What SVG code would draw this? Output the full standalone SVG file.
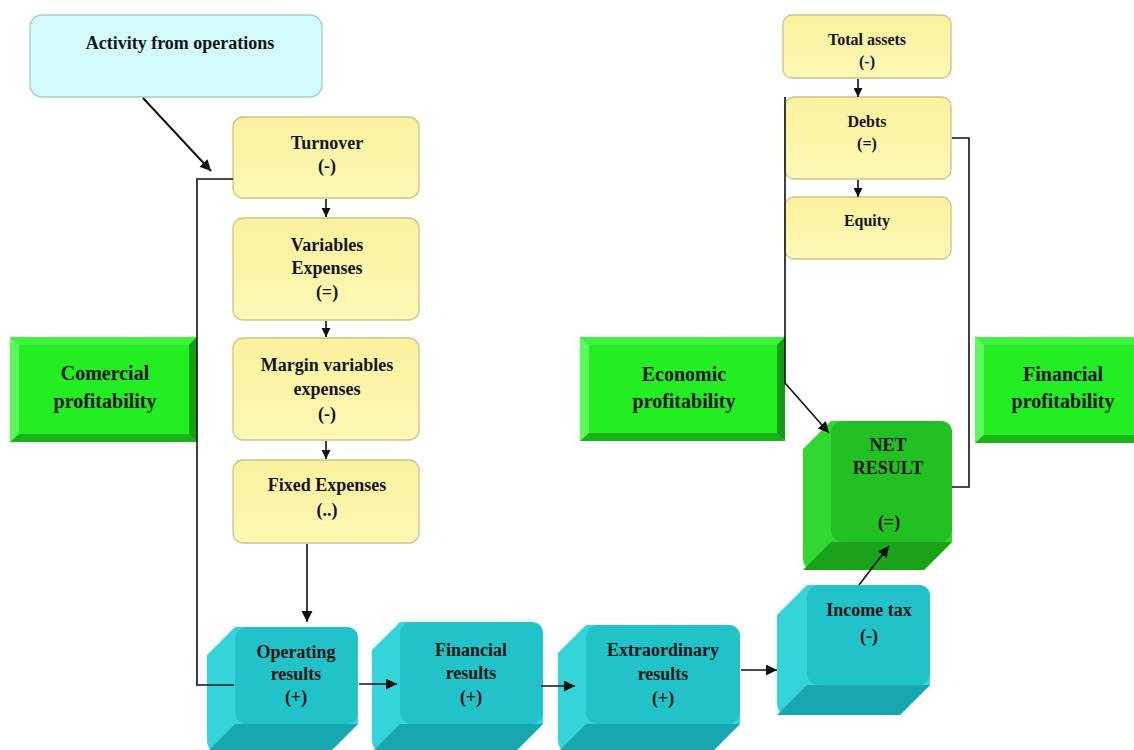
<svg xmlns="http://www.w3.org/2000/svg" width="1134" height="750" viewBox="0 0 1134 750">
<defs>
<style>
text{font-family:"Liberation Serif","Times New Roman",serif;font-weight:bold;fill:#141414;text-anchor:middle}
.t18{font-size:18px}
.t16{font-size:16px}
.t20{font-size:20px}
.ybox{fill:url(#yg);stroke:#cbc48a;stroke-width:1.3}
.abox{fill:#d3fbfd;stroke:#a9caca;stroke-width:1.3}
.cside{fill:#33d4da}
.cbot{fill:#17a8af}
.cfront{fill:#21c2c8}
.gside{fill:#30d830}
.gbot{fill:#1aa31a}
.gfront{fill:#22c022}
.conn{fill:none;stroke:#111;stroke-width:1.6}
.arr{fill:none;stroke:#111;stroke-width:2}
.bv-face{fill:#22ee22}
.bv-l{fill:#5cfb5c}
.bv-t{fill:#40f240}
.bv-r{fill:#129f12}
.bv-b{fill:#18b318}
</style>
<linearGradient id="yg" x1="0" y1="0" x2="0" y2="1">
<stop offset="0" stop-color="#faf29d"/>
<stop offset="1" stop-color="#fdf8b6"/>
</linearGradient>
<marker id="ah" viewBox="0 0 10 10" refX="10" refY="5" markerWidth="11" markerHeight="11" markerUnits="userSpaceOnUse" orient="auto">
<path d="M0,0 L10,5 L0,10 z" fill="#111"/>
</marker>
<marker id="ahs" viewBox="0 0 10 10" refX="10" refY="5" markerWidth="9" markerHeight="9" markerUnits="userSpaceOnUse" orient="auto">
<path d="M0,0 L10,5 L0,10 z" fill="#111"/>
</marker>
</defs>

<g id="activity">
<rect class="abox" x="30" y="15" width="292" height="82" rx="12"/>
<text class="t18" x="180" y="49">Activity from operations</text>
</g>

<g id="turnover">
<rect class="ybox" x="233" y="117" width="186" height="81" rx="10"/>
<text class="t18" x="327" y="149">Turnover</text>
<text class="t18" x="327" y="172">(-)</text>
</g>
<g id="variables">
<rect class="ybox" x="233" y="218" width="186" height="102" rx="10"/>
<text class="t18" x="327" y="251">Variables</text>
<text class="t18" x="327" y="274">Expenses</text>
<text class="t18" x="327" y="298">(=)</text>
</g>
<g id="margin">
<rect class="ybox" x="233" y="338" width="186" height="102" rx="10"/>
<text class="t18" x="327" y="371">Margin variables</text>
<text class="t18" x="327" y="395">expenses</text>
<text class="t18" x="327" y="420">(-)</text>
</g>
<g id="fixed">
<rect class="ybox" x="233" y="460" width="186" height="83" rx="10"/>
<text class="t18" x="327" y="491">Fixed  Expenses</text>
<text class="t18" x="327" y="516">(..)</text>
</g>

<g id="total-assets">
<rect class="ybox" x="783" y="15" width="168" height="63" rx="9"/>
<text class="t16" x="867" y="45">Total assets</text>
<text class="t16" x="867" y="67">(-)</text>
</g>
<g id="debts">
<rect class="ybox" x="785" y="97" width="166" height="82" rx="9"/>
<text class="t16" x="867" y="127">Debts</text>
<text class="t16" x="867" y="149">(=)</text>
</g>
<g id="equity">
<rect class="ybox" x="785" y="197" width="166" height="62" rx="9"/>
<text class="t16" x="867" y="226">Equity</text>
</g>

<g id="comercial">
<rect class="bv-face" x="10" y="337" width="187" height="105"/>
<polygon class="bv-l" points="10,337 19,345 19,434 10,442"/>
<polygon class="bv-t" points="10,337 197,337 189,345 19,345"/>
<polygon class="bv-r" points="197,337 197,442 189,434 189,345"/>
<polygon class="bv-b" points="10,442 197,442 189,434 19,434"/>
<text class="t20" x="105" y="380">Comercial</text>
<text class="t20" x="105" y="408">profitability</text>
</g>
<g id="economic">
<rect class="bv-face" x="580" y="337" width="205" height="104"/>
<polygon class="bv-l" points="580,337 589,345 589,433 580,441"/>
<polygon class="bv-t" points="580,337 785,337 777,345 589,345"/>
<polygon class="bv-r" points="785,337 785,441 777,433 777,345"/>
<polygon class="bv-b" points="580,441 785,441 777,433 589,433"/>
<text class="t20" x="684" y="381">Economic</text>
<text class="t20" x="684" y="408">profitability</text>
</g>
<g id="financial-prof">
<rect class="bv-face" x="975" y="337" width="159" height="106"/>
<polygon class="bv-l" points="975,337 984,345 984,435 975,443"/>
<polygon class="bv-t" points="975,337 1134,337 1134,345 984,345"/>
<polygon class="bv-b" points="975,443 1134,443 1134,435 984,435"/>
<text class="t20" x="1063" y="381">Financial</text>
<text class="t20" x="1063" y="408">profitability</text>
</g>

<g id="net-result">
<path class="gside" d="M831,421 L940,421 Q952,421 952,433 L952,542 L924,570 L815,570 Q803,570 803,558 L803,449 Z"/>
<path class="gbot" d="M831,542 L952,542 L924,570 L803,570 Z"/>
<rect class="gfront" x="831" y="421" width="121" height="121" rx="12"/>
<text class="t18" x="888" y="451">NET</text>
<text class="t18" x="888" y="474">RESULT</text>
<text class="t18" x="889" y="528">(=)</text>
</g>

<g id="operating">
<path class="cside" d="M235,627 L346,627 Q358,627 358,639 L358,724 L330,752 L219,752 Q207,752 207,740 L207,655 Z"/>
<path class="cbot" d="M235,724 L358,724 L330,752 L207,752 Z"/>
<rect class="cfront" x="235" y="627" width="123" height="97" rx="12"/>
<text class="t18" x="296" y="658">Operating</text>
<text class="t18" x="296" y="680">results</text>
<text class="t18" x="296" y="703">(+)</text>
</g>
<g id="financial-results">
<path class="cside" d="M400,622 L531,622 Q543,622 543,634 L543,724 L515,752 L384,752 Q372,752 372,740 L372,650 Z"/>
<path class="cbot" d="M400,724 L543,724 L515,752 L372,752 Z"/>
<rect class="cfront" x="400" y="622" width="143" height="102" rx="12"/>
<text class="t18" x="471" y="656">Financial</text>
<text class="t18" x="471" y="679">results</text>
<text class="t18" x="471" y="703">(+)</text>
</g>
<g id="extraordinary">
<path class="cside" d="M586,625 L728,625 Q740,625 740,637 L740,724 L712,752 L570,752 Q558,752 558,740 L558,653 Z"/>
<path class="cbot" d="M586,724 L740,724 L712,752 L558,752 Z"/>
<rect class="cfront" x="586" y="625" width="154" height="99" rx="12"/>
<text class="t18" x="663" y="656">Extraordinary</text>
<text class="t18" x="663" y="680">results</text>
<text class="t18" x="663" y="704">(+)</text>
</g>
<g id="income-tax">
<path class="cside" d="M807,585 L918,585 Q930,585 930,597 L930,685 L900,715 L789,715 Q777,715 777,703 L777,615 Z"/>
<path class="cbot" d="M807,685 L930,685 L900,715 L777,715 Z"/>
<rect class="cfront" x="807" y="585" width="123" height="100" rx="12"/>
<text class="t18" x="869" y="616">Income tax</text>
<text class="t18" x="869" y="642">(-)</text>
</g>

<g id="connectors">
<line class="arr" x1="143" y1="98" x2="211" y2="171" marker-end="url(#ah)"/>
<polyline class="conn" points="233,179 197,179 197,685 234,685"/>
<line class="conn" x1="326" y1="199" x2="326" y2="217" marker-end="url(#ahs)"/>
<line class="conn" x1="326" y1="321" x2="326" y2="337" marker-end="url(#ahs)"/>
<line class="conn" x1="326" y1="441" x2="326" y2="459" marker-end="url(#ahs)"/>
<line class="conn" x1="307" y1="544" x2="307" y2="622" marker-end="url(#ah)"/>
<line class="conn" x1="359" y1="684" x2="397" y2="684" marker-end="url(#ah)"/>
<line class="conn" x1="541" y1="686" x2="575" y2="686" marker-end="url(#ah)"/>
<line class="conn" x1="741" y1="670" x2="777" y2="670" marker-end="url(#ah)"/>
<line class="conn" x1="859" y1="585" x2="889" y2="546" marker-end="url(#ah)"/>
<line class="conn" x1="858" y1="79" x2="858" y2="97" marker-end="url(#ahs)"/>
<line class="conn" x1="858" y1="180" x2="858" y2="197" marker-end="url(#ahs)"/>
<polyline class="conn" points="785,97 785,383 829,433" marker-end="url(#ah)"/>
<polyline class="conn" points="952,138 969,138 969,487 952,487"/>
</g>
</svg>
